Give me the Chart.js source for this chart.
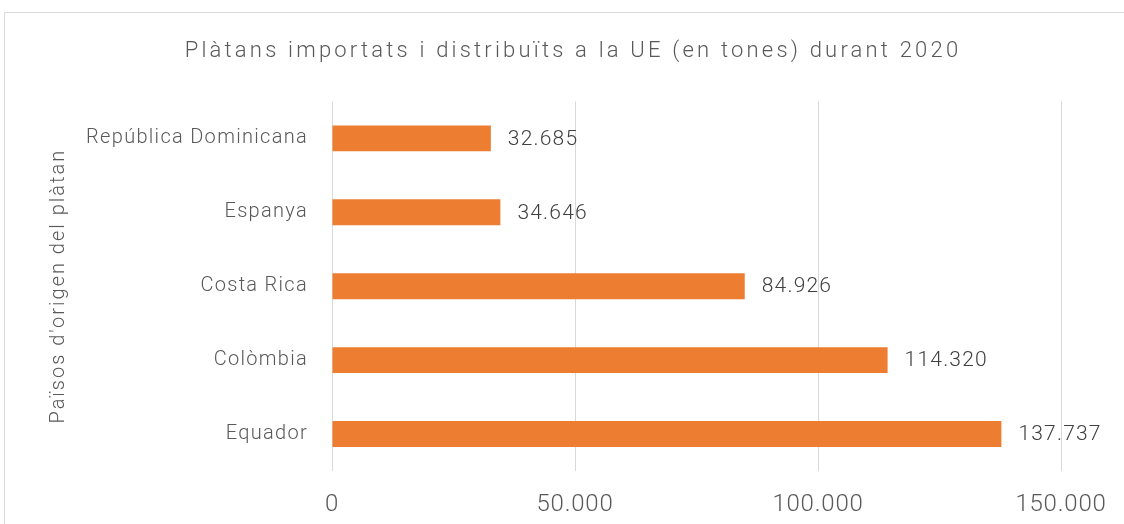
<!DOCTYPE html>
<html>
<head>
<meta charset="utf-8">
<script src="https://cdn.jsdelivr.net/npm/chart.js@4/dist/chart.umd.min.js"></script>
<style>
  html, body { margin: 0; padding: 0; background: #fff; overflow: hidden; }
  #frame { position: absolute; left: 4px; top: 12px; width: 1136px; height: 520px;
           border: 1px solid #d9d9d9; background: #fff; }
  #wrap { width: 1136px; height: 511px; }
</style>
</head>
<body>
<div id="frame"><div id="wrap"><canvas id="c"></canvas></div></div>
<script>
// Plàtans importats a la UE, 2020 (tones)
const COUNTRIES = ["República Dominicana", "Espanya", "Costa Rica", "Colòmbia", "Equador"];
const TONES = [32685, 34646, 84926, 114320, 137737];
const X_TICKS = [0, 50000, 100000, 150000];

const FONT = "Roboto, 'Open Sans', sans-serif";
const W = "300";
const TXT = "#595959";

// format 137737 -> "137.737"
const fmt = (v) => String(v).replace(/\B(?=(\d{3})+(?!\d))/g, ".");

// the source font is wider than Roboto, so open up the letters a bit per element
function spaced(obj, method, px) {
  if (!obj || !obj[method] || obj[method].__spaced) return;
  const orig = obj[method];
  const f = function (...a) {
    const c = this.ctx, prev = c.letterSpacing;
    c.letterSpacing = px;
    const r = orig.apply(this, a);
    c.letterSpacing = prev;
    return r;
  };
  f.__spaced = true;
  obj[method] = f;
}

const letterSpacing = {
  id: "letterSpacing",
  afterLayout(chart) {
    // title centred on the whole frame, not on the padded layout box
    if (chart.titleBlock) chart.titleBlock.right = chart.width;
  },
  beforeDraw(chart) {
    spaced(chart.titleBlock, "draw", "3.2px");
    spaced(chart.scales.x, "drawLabels", "0.8px");
    spaced(chart.scales.y, "drawLabels", "1.3px");
    spaced(chart.scales.y, "drawTitle", "2px");
  },
};

const valueLabels = {
  id: "valueLabels",
  afterDatasetsDraw(chart) {
    const ctx = chart.ctx;
    const meta = chart.getDatasetMeta(0);
    ctx.save();
    ctx.font = `${W} 21px ${FONT}`;
    ctx.letterSpacing = "1.2px";
    ctx.fillStyle = "#404040";
    ctx.textAlign = "left";
    ctx.textBaseline = "middle";
    meta.data.forEach((bar, i) => ctx.fillText(fmt(TONES[i]), bar.x + 17, bar.y + 1));
    ctx.restore();
  },
};

new Chart(document.getElementById("c"), {
  type: "bar",
  data: {
    labels: COUNTRIES,
    datasets: [{ data: TONES, backgroundColor: "#ED7D31",
                 categoryPercentage: 1, barPercentage: 0.35 }],
  },
  options: {
    indexAxis: "y", responsive: true, maintainAspectRatio: false, animation: false,
    layout: { padding: { left: 0, right: 80, top: 0, bottom: 0 } },
    plugins: {
      legend: { display: false }, tooltip: { enabled: false },
      title: {
        display: true, text: "Plàtans importats i distribuïts a la UE (en tones) durant 2020",
        color: TXT, font: { family: FONT, size: 22, weight: W },
        padding: { top: 25, bottom: 37 },
      },
    },
    scales: {
      x: {
        min: 0, max: 150000,
        afterBuildTicks: (s) => { s.ticks = X_TICKS.map((v) => ({ value: v })); },
        afterFit: (s) => { s.height = 53; },
        grid: { color: "#d9d9d9", lineWidth: 1, drawTicks: false },
        border: { display: false },
        ticks: { color: TXT, font: { family: FONT, size: 24, weight: W },
                 padding: 20, callback: (v) => fmt(v) },
      },
      y: {
        afterFit: (s) => { s.width = 327; },
        grid: { display: false, drawTicks: false },
        border: { display: false },
        ticks: { color: TXT, font: { family: FONT, size: 20, weight: W }, padding: 24 },
        title: { display: true, text: "Països d'origen del plàtan", color: TXT,
                 font: { family: FONT, size: 20, weight: W }, padding: { top: 42 } },
      },
    },
  },
  plugins: [letterSpacing, valueLabels],
});
</script>
</body>
</html>
